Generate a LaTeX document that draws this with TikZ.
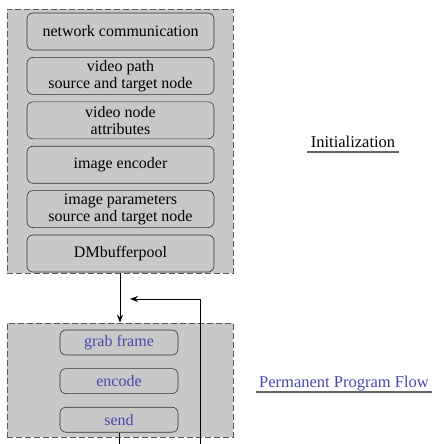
\documentclass[tikz,border=0pt]{standalone}
\usepackage{fontspec}
\setmainfont{Liberation Serif}
\usetikzlibrary{positioning, arrows.meta}
\definecolor{panelgray}{RGB}{200,200,200}
\definecolor{flowblue}{RGB}{72,72,172}
\definecolor{rulegray}{RGB}{100,100,100}

\begin{document}
\begin{tikzpicture}[x=1pt,y=-1pt,>={Stealth[length=8pt,width=6pt]},semithick,node distance=6.8pt,
    panel/.style={draw=black!65,dash pattern=on 6pt off 3pt,fill=panelgray,minimum width=226pt},
    block/.style={draw=black!80,rounded corners=6pt,fill=panelgray,minimum width=187pt,
      minimum height=37pt,align=center,inner sep=1pt,font=\fontsize{16}{17}\selectfont},
    small/.style={block,minimum width=118pt,minimum height=25pt,text=flowblue},
    title/.style={font=\fontsize{16.5}{19}\selectfont,anchor=base}]
      \useasboundingbox (0,0) rectangle (432,444);

      % the two dashed panels
      \node[panel,minimum height=264pt] (init) at (120,141) {};
      \node[panel,minimum height=114pt] (loop) at (120,380) {};

      % initialization steps
      \node[block] (net) at (120.5,31.5) {network communication};
      \node[block] (path) [below=of net] {video path\\source and target node};
      \node[block] (attr) [below=of path] {video node\\attributes};
      \node[block] (coder) [below=of attr] {image encoder};
      \node[block] (param) [below=of coder] {image parameters\\source and target node};
      \node[block] (pool) [below=of param] {DMbufferpool};

      % program loop
      \node[small] (grab) at (119,342.5) {grab frame};
      \node[small] (enc) [below=13pt of grab] {encode};
      \node[small] (send) [below=13pt of enc] {send};

      % labels on the right
      \node[title] (initlbl) at (353,147) {Initialization};
      \node[title,text=flowblue] (looplbl) at (344,387) {Permanent Program Flow};
      \draw[rulegray,line width=2.4pt] ([yshift=-5pt]initlbl.base west) -- ([yshift=-5pt]initlbl.base east);
      \draw[rulegray,line width=2.4pt] ([yshift=-5pt]looplbl.base west) -- ([yshift=-5pt]looplbl.base east);

      \coordinate (sendout) at (120,444);
      \coordinate (backin) at (200,444);
      \coordinate (backtip) at (130,299);

      \draw[->] (init) -- (loop);
      \draw (send.south) -- (send.south |- sendout);
      \draw[->] (backin) |- (backtip);
    \end{tikzpicture}
\end{document}
